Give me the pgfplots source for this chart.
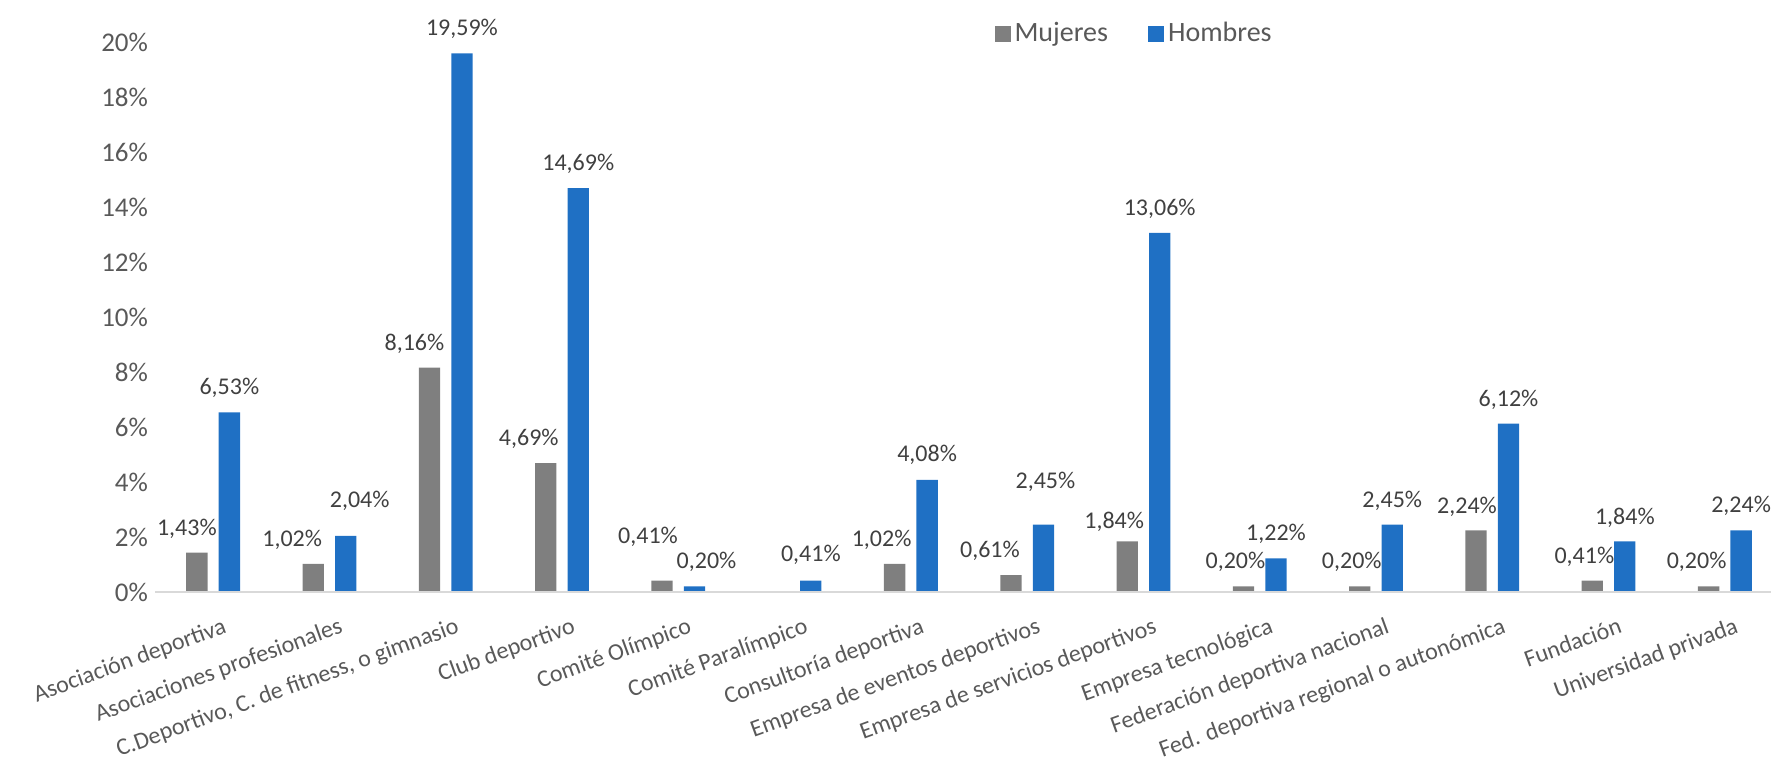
\documentclass[border=0pt]{standalone}
\usepackage{pgfplots}
\usepackage{pgfplotstable}
\pgfplotsset{compat=1.18}
\usepackage{fontspec}
\setmainfont{Carlito}
\definecolor{mujer}{RGB}{127,127,127}
\definecolor{hombre}{RGB}{31,112,196}
\definecolor{txt}{RGB}{89,89,89}
\definecolor{lbl}{RGB}{64,64,64}

% dx, off: label shift and baseline height above the bar, in pixels of the reference
\pgfplotstableread{
x  y     dx   off
0  1.43  -10  17
1  1.02  -21  17
2  8.16  -15  17.5
3  4.69  -17  17.5
4  0.41  -14  37
6  1.02  -13  17
7  0.61  -21  18
8  1.84  -13  13
9  0.20  -8   17.5
10 0.20  -8   17.5
11 2.24  -9   17
12 0.41  -8   17.5
13 0.20  -12  17.5
}\mujeres
\pgfplotstableread{
x  y      dx   off
0  6.53   0    17.5
1  2.04   14   28
2  19.59  0    17.5
3  14.69  0    17.5
4  0.20   12   18
5  0.41   0    19
6  4.08   0    18
7  2.45   2    36
8  13.06  0    17.5
9  1.22   0    17.5
10 2.45   0    17.5
11 6.12   0    17.5
12 1.84   0    17
13 2.24   0    17.5
}\hombres

\begin{document}
\begin{tikzpicture}
\useasboundingbox (0,0) rectangle (885.5pt,379pt);
\begin{axis}[
  at={(77.5pt,83pt)}, anchor=south west,
  scale only axis, width=814pt, height=296pt,
  xmin=-0.5, xmax=13.5, ymin=0, ymax=21.53,
  ybar=5.6pt, bar width=10.65pt,
  axis line style={draw=none},
  major tick length=0pt,
  xtick={0,...,13},
  xticklabels={
    Asociación deportiva,
    Asociaciones profesionales,
    {C.Deportivo, C. de fitness, o gimnasio},
    Club deportivo,
    Comité Olímpico,
    Comité Paralímpico,
    Consultoría deportiva,
    Empresa de eventos deportivos,
    Empresa de servicios deportivos,
    Empresa tecnológica,
    Federación deportiva nacional,
    Fed. deportiva regional o autonómica,
    Fundación,
    Universidad privada},
  ytick={0,2,...,20},
  yticklabel={\pgfmathprintnumber{\tick}\%},
  /pgf/number format/assume math mode=true,
  tick label style={text=txt},
  yticklabel style={font=\fontsize{13.5}{15}\selectfont},
  xticklabel style={font=\fontsize{12}{14}\selectfont, rotate=20,
    anchor=north east, inner sep=0pt, yshift=-13pt},
  visualization depends on={\thisrow{dx} \as \lbldx},
  visualization depends on={\thisrow{off} \as \lbloff},
  nodes near coords={\pgfmathprintnumber[fixed,fixed zerofill,precision=2,use comma]{\pgfplotspointmeta}\%},
  every node near coord/.append style={font=\fontsize{12}{14}\selectfont,
    text=lbl, anchor=base, xshift=\lbldx*0.5pt, yshift=\lbloff*0.5pt},
  legend style={draw=none, fill=none, at={(0.602,0.943)}, anchor=center,
    legend columns=2, font=\fontsize{14}{16}\selectfont, text=txt,
    /tikz/every even column/.append style={column sep=18pt}},
  legend cell align=left,
  legend image code/.code={\fill[#1] (0pt,-4pt) rectangle (8pt,4pt);},
  clip=false,
]
\addplot[fill=mujer, draw=none] table[x=x, y=y] {\mujeres};
\addplot[fill=hombre, draw=none] table[x=x, y=y] {\hombres};
\legend{Mujeres, Hombres}
\draw[gray!30, line width=0.75pt] (axis cs:-0.5,0) -- (axis cs:13.5,0);
\end{axis}
\end{tikzpicture}
\end{document}
